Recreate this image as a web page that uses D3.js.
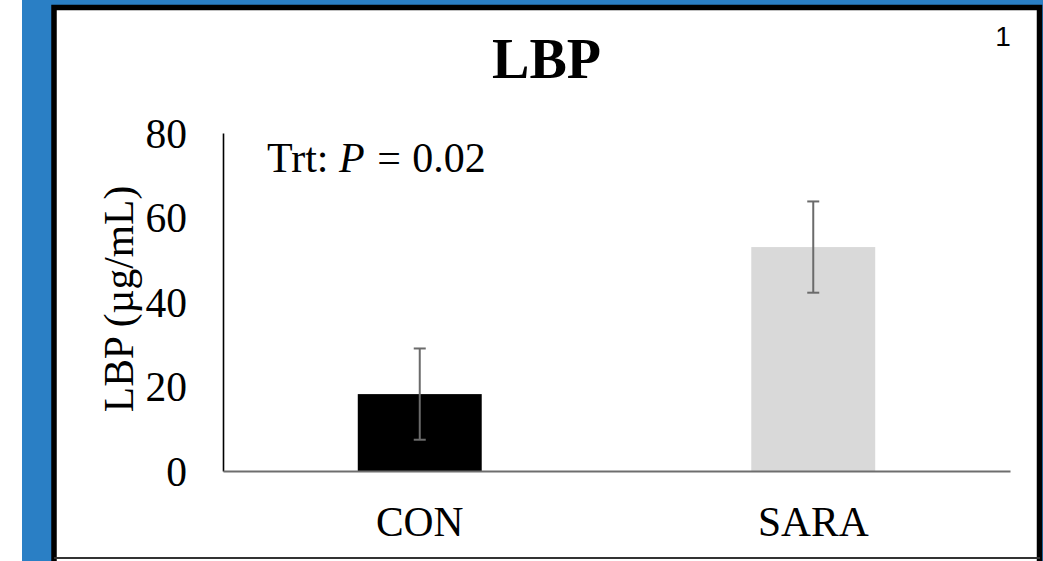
<!DOCTYPE html>
<html>
<head>
<meta charset="utf-8">
<script src="https://cdn.jsdelivr.net/npm/d3@7"></script>
<style>
  body { margin: 0; background: #fff; }
  svg { display: block; }
</style>
</head>
<body>
<div id="chart"></div>
<script>
// data
const categories = ["CON", "SARA"];
const means = [18.2, 53.0];
const errors = [10.8, 10.8];
const barColors = ["#000000", "#d9d9d9"];
const yTicks = [0, 20, 40, 60, 80];

const W = 1043, H = 561;
const serif = "'Liberation Serif', 'Times New Roman', serif";

const svg = d3.select("#chart")
  .append("svg")
  .attr("width", W)
  .attr("height", H);

// blue slide background
svg.append("rect")
  .attr("x", 22).attr("y", 0)
  .attr("width", W - 22).attr("height", H)
  .attr("fill", "#2a7fc5");

// white panel with black frame
svg.append("rect")
  .attr("x", 54).attr("y", 7.5)
  .attr("width", 985.5).attr("height", 560)
  .attr("fill", "#fff")
  .attr("stroke", "#000")
  .attr("stroke-width", 5.5);

svg.append("line")
  .attr("x1", 54).attr("x2", 1040)
  .attr("y1", 558).attr("y2", 558)
  .attr("stroke", "#333")
  .attr("stroke-width", 2);

const x0 = 223, x1 = 1010, yTop = 133, yBot = 471;

const x = d3.scaleBand()
  .domain(categories)
  .range([x0, x1])
  .paddingInner(0.685)
  .paddingOuter(0.3425);

const y = d3.scaleLinear()
  .domain([0, 80])
  .range([yBot, yTop]);

// bars
svg.selectAll(".bar")
  .data(categories)
  .enter()
  .append("rect")
  .attr("class", "bar")
  .attr("x", (d) => x(d))
  .attr("y", (d, i) => y(means[i]))
  .attr("width", x.bandwidth())
  .attr("height", (d, i) => y(0) - y(means[i]))
  .attr("fill", (d, i) => barColors[i]);

// error bars
const eb = svg.selectAll(".err")
  .data(categories)
  .enter()
  .append("g")
  .attr("class", "err")
  .attr("stroke", "#6b6b6b")
  .attr("stroke-width", 2);

eb.append("line")
  .attr("x1", (d) => x(d) + x.bandwidth() / 2)
  .attr("x2", (d) => x(d) + x.bandwidth() / 2)
  .attr("y1", (d, i) => y(means[i] + errors[i]))
  .attr("y2", (d, i) => y(means[i] - errors[i]));

[1, -1].forEach((s) => {
  eb.append("line")
    .attr("x1", (d) => x(d) + x.bandwidth() / 2 - 6)
    .attr("x2", (d) => x(d) + x.bandwidth() / 2 + 6)
    .attr("y1", (d, i) => y(means[i] + s * errors[i]))
    .attr("y2", (d, i) => y(means[i] + s * errors[i]));
});

// y axis
const yAxis = svg.append("g")
  .attr("transform", `translate(${x0},0)`)
  .call(d3.axisLeft(y).tickValues(yTicks).tickSize(0).tickPadding(36));
yAxis.select(".domain").attr("stroke", "#000").attr("stroke-width", 1.6);
yAxis.selectAll("text")
  .attr("font-family", serif)
  .attr("font-size", "41.5px")
  .attr("fill", "#000")
  .attr("dy", "0.34em");

// x axis
const xAxis = svg.append("g")
  .attr("transform", `translate(0,${yBot})`)
  .call(d3.axisBottom(x).tickSize(0).tickPadding(36));
xAxis.select(".domain").attr("stroke", "#6e6e6e").attr("stroke-width", 2);
xAxis.selectAll("text")
  .attr("font-family", serif)
  .attr("font-size", "41.5px")
  .attr("fill", "#000");

// axis title
svg.append("text")
  .attr("transform", "translate(133,299) rotate(-90)")
  .attr("text-anchor", "middle")
  .attr("font-family", serif)
  .attr("font-size", "41.5px")
  .attr("fill", "#000")
  .text("LBP (µg/mL)");

// title
svg.append("text")
  .attr("x", 546.5)
  .attr("y", 78)
  .attr("text-anchor", "middle")
  .attr("font-family", serif)
  .attr("font-size", "56px")
  .attr("font-weight", "bold")
  .attr("fill", "#000")
  .text("LBP");

// stats annotation
const note = svg.append("text")
  .attr("x", 267)
  .attr("y", 172)
  .attr("font-family", serif)
  .attr("font-size", "42px")
  .attr("fill", "#000");
note.append("tspan").text("Trt: ");
note.append("tspan").attr("font-style", "italic").text("P");
note.append("tspan").attr("dx", "2").text(" = ");
note.append("tspan").attr("dx", "1").text("0.02");

// slide number
svg.append("text")
  .attr("x", 1003)
  .attr("y", 46)
  .attr("text-anchor", "middle")
  .attr("font-family", "'Liberation Sans', Arial, sans-serif")
  .attr("font-size", "28px")
  .attr("fill", "#000")
  .text("1");
</script>
</body>
</html>
